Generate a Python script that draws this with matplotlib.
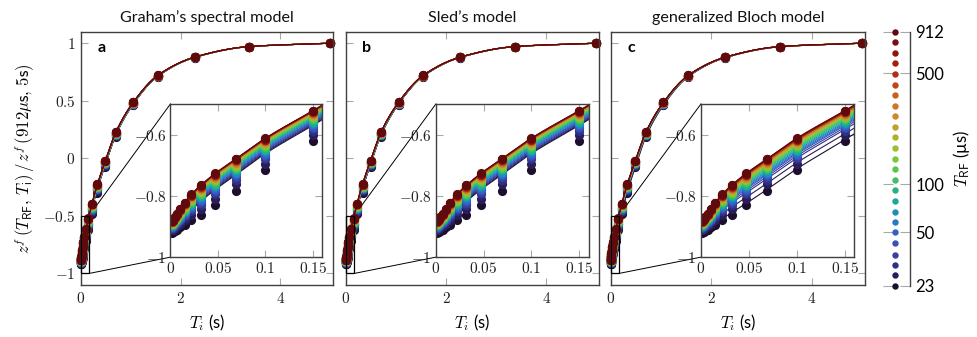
import numpy as np
import matplotlib
matplotlib.use('Agg')
import matplotlib.pyplot as plt
from matplotlib.colors import ListedColormap, LogNorm
from matplotlib.patches import Rectangle, ConnectionPatch
from matplotlib.ticker import FixedLocator, FuncFormatter, FixedFormatter, NullLocator

plt.rcParams['mathtext.fontset'] = 'cm'
plt.rcParams['font.family'] = ['Lato', 'DejaVu Sans']

# ---------------- data ----------------
titles = ["Graham\u2019s spectral model", "Sled\u2019s model", "generalized Bloch model"]
panel_letters = ['a', 'b', 'c']

# RF pulse durations (us)
trf_us = [23, 27, 31, 36, 43, 50, 58, 67, 79, 92, 107, 124, 145, 169, 197,
          230, 268, 312, 364, 424, 494, 576, 672, 783, 912]

# inversion times (s)
ti_s = [5.0, 3.37, 2.28, 1.54, 1.05, 0.70, 0.49, 0.33, 0.22, 0.15, 0.10, 0.069,
        0.047, 0.032, 0.022, 0.015, 0.0102, 0.0069, 0.0047, 0.0032, 0.0022, 0.0015]

# measured signal for T_RF = 912 us (top series)
z_912 = [1.0, 0.971, 0.879, 0.72, 0.487, 0.228, -0.02, -0.225, -0.395, -0.522,
         -0.612, -0.679, -0.727, -0.765, -0.795, -0.822, -0.843, -0.858, -0.868,
         -0.875, -0.879, -0.882]

# how far the T_RF = 23 us data lie below the 912 us data, per T_i
drop_23_data = [0.0, 0.002, 0.005, 0.012, 0.025, 0.045, 0.055, 0.075, 0.09, 0.10,
                0.105, 0.105, 0.103, 0.098, 0.085, 0.072, 0.06, 0.052, 0.046,
                0.042, 0.04, 0.038]
# relative position of each T_RF series between 912 us (0) and 23 us (1), data
share_data = [1.0, 0.8, 0.65, 0.58, 0.52, 0.48, 0.44, 0.40, 0.36, 0.32, 0.28,
              0.25, 0.22, 0.19, 0.16, 0.14, 0.12, 0.10, 0.08, 0.06, 0.05, 0.04,
              0.02, 0.01, 0.0]

# model fits: drop of the 23 us fit below the 912 us curve, per T_i
drop_23_fit_graham = [0.0, 0.001, 0.003, 0.008, 0.015, 0.025, 0.032, 0.04, 0.045,
                      0.048, 0.05, 0.052, 0.053, 0.053, 0.052, 0.05, 0.048, 0.046,
                      0.045, 0.044, 0.043, 0.043]
drop_23_fit_sled = [0.0, 0.001, 0.003, 0.008, 0.015, 0.025, 0.032, 0.04, 0.045,
                    0.048, 0.05, 0.052, 0.053, 0.053, 0.052, 0.05, 0.048, 0.046,
                    0.045, 0.044, 0.043, 0.043]
drop_23_fit_bloch = [0.0, 0.002, 0.005, 0.012, 0.025, 0.04, 0.055, 0.07, 0.085,
                     0.095, 0.1, 0.1, 0.098, 0.09, 0.08, 0.068, 0.058, 0.05,
                     0.046, 0.042, 0.04, 0.038]
share_fit_graham_sled = [1.0, 0.94, 0.875, 0.81, 0.75, 0.69, 0.625, 0.56, 0.5,
                         0.44, 0.375, 0.31, 0.27, 0.23, 0.19, 0.15, 0.125, 0.10,
                         0.083, 0.063, 0.042, 0.031, 0.021, 0.01, 0.0]
share_fit_bloch = share_data

cbar_ticks = [23, 50, 100, 500, 912]
main_xticks = [0, 2, 4]
main_yticks = [-1, -0.5, 0, 0.5, 1]
inset_xticks = [0, 0.05, 0.1, 0.15]
inset_yticks = [-1, -0.8, -0.6]

# ---------------- style ----------------
dot_colors = ['#1c0e2c', '#2a1e5a', '#303082', '#3840a2', '#3a50ba', '#3262c8',
              '#2a78c8', '#1a90b8', '#18a8a0', '#28b282', '#40c062', '#58c84a',
              '#78c83a', '#98c032', '#b0b030', '#c0a030', '#c88c30', '#cc7828',
              '#c86020', '#c04818', '#b03014', '#a02010', '#8e1510', '#7a0f10',
              '#600a0e']
cmap = ListedColormap(dot_colors)
norm = LogNorm(vmin=trf_us[0], vmax=trf_us[-1])

def color_of(trf):
    return cmap(min(int(round(norm(trf) * (len(dot_colors) - 1))), len(dot_colors) - 1) / (len(dot_colors) - 1))

SPINE = '#404040'
TICK = '#a8a8a8'

def pchip(x, y, xn):
    x = np.asarray(x, float); y = np.asarray(y, float)
    h = np.diff(x); d = np.diff(y) / h
    n = len(x)
    m = np.zeros(n)
    for k in range(1, n - 1):
        if d[k - 1] * d[k] > 0:
            w1 = 2 * h[k] + h[k - 1]; w2 = h[k] + 2 * h[k - 1]
            m[k] = (w1 + w2) / (w1 / d[k - 1] + w2 / d[k])
    m[0] = d[0]; m[-1] = d[-1]
    idx = np.clip(np.searchsorted(x, xn) - 1, 0, n - 2)
    t = (xn - x[idx]) / h[idx]
    h00 = 2 * t**3 - 3 * t**2 + 1; h10 = t**3 - 2 * t**2 + t
    h01 = -2 * t**3 + 3 * t**2; h11 = t**3 - t**2
    return h00 * y[idx] + h10 * h[idx] * m[idx] + h01 * y[idx + 1] + h11 * h[idx] * m[idx + 1]

math_fmt = FuncFormatter(lambda v, p: '$%s$' % ('%g' % v))

def style_axes(a, xt, yt, labelleft=True):
    for s in a.spines.values():
        s.set_color(SPINE); s.set_linewidth(1.0)
    a.xaxis.set_major_locator(FixedLocator(xt))
    a.yaxis.set_major_locator(FixedLocator(yt))
    a.xaxis.set_major_formatter(math_fmt)
    a.yaxis.set_major_formatter(math_fmt)
    a.tick_params(direction='in', length=5, width=0.8, color=TICK, top=True,
                  right=True, labelsize=11, labelleft=labelleft, pad=4,
                  labelcolor='#222222')

W, H = 977, 337
fig = plt.figure(figsize=(W / 100, H / 100), dpi=100)

def fax(l, t, r, b):
    return fig.add_axes([l / W, 1 - b / H, (r - l) / W, (b - t) / H])

boxes = [(81, 31.7, 333, 285), (346, 31.7, 599.3, 285), (610.7, 31.7, 865, 285)]
fit_drops = [drop_23_fit_graham, drop_23_fit_sled, drop_23_fit_bloch]
fit_shares = [share_fit_graham_sled, share_fit_graham_sled, share_fit_bloch]

order = np.argsort(ti_s)
xs = np.unique(np.concatenate([np.geomspace(min(ti_s), max(ti_s), 800),
                               np.linspace(min(ti_s), max(ti_s), 800)]))

for p in range(3):
    ax = fax(*boxes[p])
    ax.set_xlim(0, 5.06)
    ax.set_ylim(-1.1, 1.1)
    style_axes(ax, main_xticks, main_yticks, labelleft=(p == 0))
    ax.set_title(titles[p], fontsize=11.6, pad=7, color='#111111')
    ax.set_xlabel(r'$T_i$ (s)', fontsize=12, labelpad=5)
    ax.text(0.082, 0.937, panel_letters[p], transform=ax.transAxes,
            fontweight='bold', fontsize=11.5, ha='center', va='center')
    if p == 0:
        ax.set_ylabel(r'$z^f\,(T_{\mathsf{RF}},\,T_{\mathsf{i}})\,/\,z^f\,(912\mathsf{\mu s},\,5\mathsf{s})$',
                      fontsize=12, labelpad=4)

    ins = ax.inset_axes([0.355, 0.11, 0.603, 0.605])
    ins.set_xlim(0, 0.16)
    ins.set_ylim(-1, -0.5)
    style_axes(ins, inset_xticks, inset_yticks)
    ins.tick_params(pad=3)
    ins.set_zorder(3)

    for i, trf in enumerate(trf_us):
        col = color_of(trf)
        zd = np.array(z_912) - share_data[i] * np.array(drop_23_data)
        zf = np.array(z_912) - fit_shares[p][i] * np.array(fit_drops[p])
        zf_s = pchip(np.array(ti_s)[order], zf[order], xs)
        for tgt, clip in ((ax, False), (ins, True)):
            tgt.plot(ti_s, zd, 'o', ms=6.6, color=col, mec='none', clip_on=clip,
                     zorder=2 + i * 0.01)
            tgt.plot(xs, zf_s, '-', lw=0.8, color=col, zorder=2.005 + i * 0.01)

    ax.add_patch(Rectangle((0, -1), 0.16, 0.5, fill=False, ec='black', lw=0.9,
                           zorder=4, clip_on=False))
    for ya, yb in ((-0.5, 1), (-1, 0)):
        con = ConnectionPatch(xyA=(0.16, ya), coordsA=ax.transData, xyB=(0, yb),
                              coordsB=ins.transAxes, color='black', lw=0.7)
        ax.add_artist(con)

# colorbar made of dots
cax = fax(883, 31.7, 910, 285.7)
cax.set_yscale('log')
cax.set_ylim(trf_us[0], trf_us[-1])
cax.set_xlim(0, 1)
for trf in trf_us:
    cax.plot([0.45], [trf], 'o', ms=4.6, color=color_of(trf), mec='none', clip_on=False)
for s in ('left', 'top', 'bottom'):
    cax.spines[s].set_visible(False)
cax.spines['right'].set_color(SPINE)
cax.spines['right'].set_linewidth(1.0)
cax.xaxis.set_major_locator(NullLocator())
cax.yaxis.set_major_locator(FixedLocator(cbar_ticks))
cax.yaxis.set_minor_locator(NullLocator())
cax.yaxis.set_major_formatter(FixedFormatter([str(t) for t in cbar_ticks]))
cax.tick_params(axis='y', direction='in', length=7, width=0.8, color=TICK,
                left=True, right=True, labelleft=False, labelright=True,
                labelsize=12, pad=4)
cax.set_ylabel(r'$T_{\mathsf{RF}}$ (µs)', fontsize=12, labelpad=5)
cax.yaxis.set_label_position('right')

fig.savefig('out.png', dpi=100)
